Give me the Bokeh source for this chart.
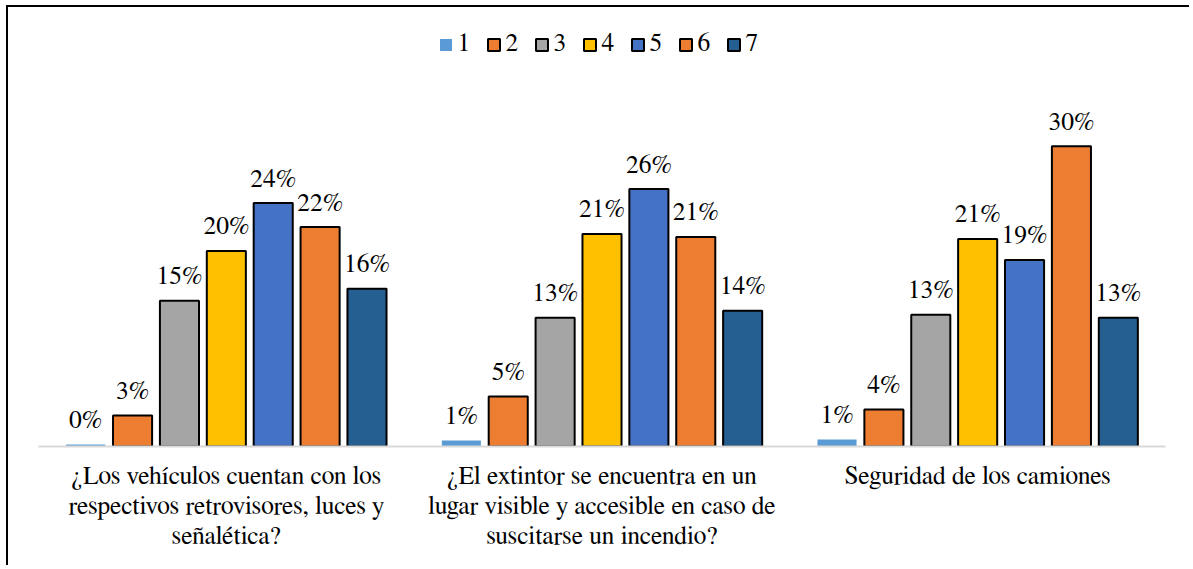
from bokeh.plotting import figure
from bokeh.models import ColumnDataSource, Legend, LegendItem, FixedTicker, Range1d
from bokeh.transform import dodge
from bokeh.embed import file_html
from bokeh.resources import INLINE

categories = [
    "¿Los vehículos cuentan con los\nrespectivos retrovisores, luces y\nseñalética?",
    "¿El extintor se encuentra en un\nlugar visible y accesible en caso de\nsuscitarse un incendio?",
    "Seguridad de los camiones",
]
series_names = ["1", "2", "3", "4", "5", "6", "7"]
s1 = [0.2, 0.6, 0.7]
s2 = [3.1, 5.0, 3.7]
s3 = [14.6, 12.9, 13.2]
s4 = [19.6, 21.3, 20.8]
s5 = [24.4, 25.8, 18.7]
s6 = [22.0, 21.0, 30.1]
s7 = [15.8, 13.6, 12.9]
series_values = [s1, s2, s3, s4, s5, s6, s7]
colors = ["#5B9BD5", "#ED7D31", "#A5A5A5", "#FFC000", "#4472C4", "#ED7D31", "#255E91"]

FONT = "FreeSerif"
FSIZE = "25.5px"

p = figure(width=1183, height=560, output_backend="svg", toolbar_location=None,
           x_range=Range1d(-0.5, 2.5), y_range=Range1d(0, 44.0),
           min_border_left=30, min_border_right=26, min_border_top=0,
           min_border_bottom=121)
p.styles = {"border-left": "2px solid #000000", "border-top": "2px solid #000000",
            "margin-left": "6px", "margin-top": "5px"}
p.outline_line_color = None
p.xgrid.visible = False
p.ygrid.visible = False
p.yaxis.visible = False

pitch = 0.1248
bw = 0.104
items = []
for i, (name, vals) in enumerate(zip(series_names, series_values)):
    src = ColumnDataSource(dict(x=list(range(len(categories))), y=vals,
                                lab=["{:.0f}%".format(v) for v in vals]))
    off = (i - 3) * pitch
    r = p.vbar(x=dodge("x", off), top="y", width=bw, source=src,
               fill_color=colors[i],
               line_color=None if i == 0 else "#000000",
               line_width=2)
    p.text(x=dodge("x", off), y="y", text="lab", source=src,
           text_align="center", text_baseline="alphabetic", y_offset=-24,
           text_font={"value": FONT}, text_font_size=FSIZE, text_color="#000000")
    items.append(LegendItem(label=name, renderers=[r]))

legend = Legend(items=items, orientation="horizontal", location="top_center",
                label_text_font=FONT, label_text_font_size=FSIZE,
                label_text_color="#000000",
                glyph_width=15, glyph_height=15, label_standoff=5, spacing=8,
                padding=0, margin=23, border_line_color=None,
                background_fill_alpha=0, label_height=20)
p.add_layout(legend)

p.xaxis.ticker = FixedTicker(ticks=list(range(len(categories))))
p.xaxis.major_label_overrides = {i: c for i, c in enumerate(categories)}
p.xaxis.major_label_text_font = FONT
p.xaxis.major_label_text_font_size = FSIZE
p.xaxis.major_label_text_color = "#000000"
p.xaxis.major_label_standoff = 11
p.xaxis.major_tick_line_color = None
p.xaxis.minor_tick_line_color = None
p.xaxis.axis_line_color = "#D9D9D9"
p.xaxis.axis_line_width = 2

open("out.html", "w").write(file_html(p, INLINE))
